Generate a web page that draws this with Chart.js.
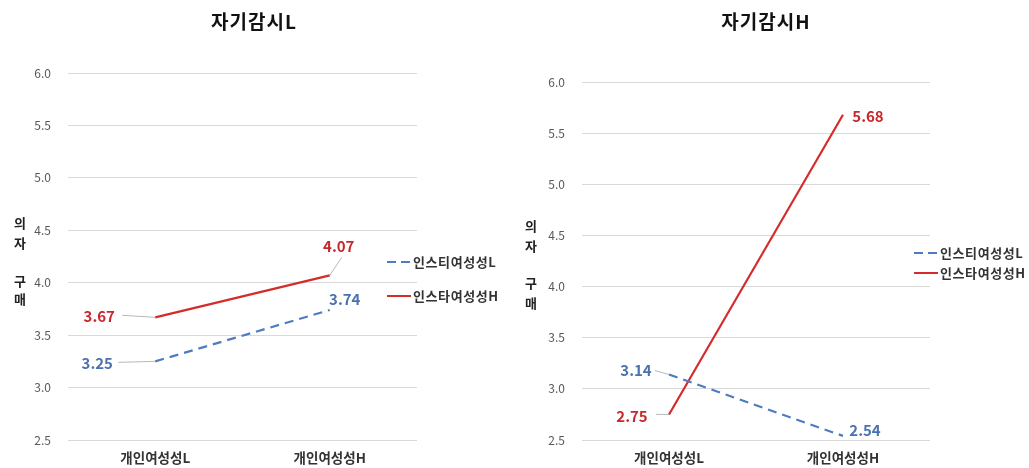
<!DOCTYPE html>
<html>
<head>
<meta charset="utf-8">
<script src="https://cdn.jsdelivr.net/npm/chart.js@4.4.1/dist/chart.umd.min.js"></script>
<style>
  html, body { margin:0; padding:0; background:#fff; }
  body { width:1029px; height:468px; position:relative; overflow:hidden; font-family:"Noto Sans CJK KR","Noto Sans",sans-serif; }
  .panel { position:absolute; top:0; height:468px; }
  .title { position:absolute; top:7px; font-size:19px; font-weight:bold; color:#111; letter-spacing:1px; transform:translateX(-50%); white-space:nowrap; }
  .ylab { position:absolute; font-size:13px; font-weight:bold; color:#222; transform:translate(-50%,-50%); }
  .leg { position:absolute; font-size:13px; font-weight:bold; color:#333; white-space:nowrap; display:flex; align-items:center; letter-spacing:0.6px; }
  .leg svg { margin-right:2px; }
</style>
</head>
<body>
<div class="panel" style="left:0;width:515px"><canvas id="c1" width="515" height="468"></canvas></div>
<div class="panel" style="left:515px;width:514px"><canvas id="c2" width="514" height="468"></canvas></div>

<div class="title" style="left:254px">자기감시L</div>
<div class="title" style="left:766px">자기감시H</div>

<div class="ylab" style="left:20px;top:222px">의</div>
<div class="ylab" style="left:20px;top:242px">자</div>
<div class="ylab" style="left:20px;top:280px">구</div>
<div class="ylab" style="left:20px;top:298px">매</div>
<div class="ylab" style="left:531px;top:225px">의</div>
<div class="ylab" style="left:531px;top:245px">자</div>
<div class="ylab" style="left:531px;top:282px">구</div>
<div class="ylab" style="left:531px;top:302px">매</div>

<div class="leg" style="left:387px;top:252px"><svg width="24" height="4"><line x1="0" y1="2" x2="24" y2="2" stroke="#4F7BC0" stroke-width="2" stroke-dasharray="9 5"/></svg><span id="l1a"></span></div>
<div class="leg" style="left:387px;top:286px"><svg width="24" height="4"><line x1="0" y1="2" x2="24" y2="2" stroke="#D42B2B" stroke-width="2"/></svg><span id="l1b"></span></div>
<div class="leg" style="left:914px;top:243px"><svg width="24" height="4"><line x1="0" y1="2" x2="24" y2="2" stroke="#4F7BC0" stroke-width="2" stroke-dasharray="9 5"/></svg><span id="l2a"></span></div>
<div class="leg" style="left:914px;top:263px"><svg width="24" height="4"><line x1="0" y1="2" x2="24" y2="2" stroke="#D42B2B" stroke-width="2"/></svg><span id="l2b"></span></div>

<script>
// ---- data ----
const categories = ['개인여성성L', '개인여성성H'];
const seriesNames = ['인스티여성성L', '인스타여성성H'];
const leftL  = [3.25, 3.74];
const leftH  = [3.67, 4.07];
const rightL = [3.14, 2.54];
const rightH = [2.75, 5.68];
const yMin = 2.5, yMax = 6.0, yStep = 0.5;

document.getElementById('l1a').textContent = seriesNames[0];
document.getElementById('l1b').textContent = seriesNames[1];
document.getElementById('l2a').textContent = seriesNames[0];
document.getElementById('l2b').textContent = seriesNames[1];

const BLUE = '#4F7BC0', BLUE_T = '#4A72B0';
const RED = '#D42B2B', RED_T = '#C8282D';
const FONT = '"Noto Sans CJK KR","Noto Sans",sans-serif';

const valueLabels = {
  id: 'valueLabels',
  afterDatasetsDraw(chart) {
    const ctx = chart.ctx;
    chart.data.datasets.forEach((ds, i) => {
      const meta = chart.getDatasetMeta(i);
      meta.data.forEach((pt, j) => {
        const o = ds.labelPos[j];
        const x = pt.x, y = pt.y;
        ctx.save();
        if (o.leader) {
          ctx.strokeStyle = '#a6a6a6';
          ctx.lineWidth = 0.8;
          ctx.beginPath();
          ctx.moveTo(x + o.leader[0], y + o.leader[1]);
          ctx.lineTo(x, y);
          ctx.stroke();
        }
        ctx.fillStyle = ds.labelColor;
        ctx.font = 'bold 15px ' + FONT;
        ctx.textAlign = 'center';
        ctx.textBaseline = 'middle';
        ctx.fillText(ds.data[j].toFixed(2), x + o.dx, y + o.dy);
        ctx.restore();
      });
    });
  }
};

function makeChart(id, dataL, dataH, posL, posH, pad, yWidth) {
  return new Chart(document.getElementById(id), {
    type: 'line',
    data: {
      labels: categories,
      datasets: [
        { label: seriesNames[0], data: dataL, borderColor: BLUE, borderWidth: 2.2, borderDash: [9, 6],
          pointRadius: 0, fill: false, tension: 0, labelColor: BLUE_T, labelPos: posL },
        { label: seriesNames[1], data: dataH, borderColor: RED, borderWidth: 2.2,
          pointRadius: 0, fill: false, tension: 0, labelColor: RED_T, labelPos: posH }
      ]
    },
    options: {
      responsive: false,
      animation: false,
      layout: { padding: pad },
      plugins: { legend: { display: false }, title: { display: false }, tooltip: { enabled: false } },
      scales: {
        x: {
          offset: true,
          grid: { display: false, drawTicks: false },
          border: { display: false },
          ticks: { padding: 10, color: '#333', font: { family: FONT, size: 13.5, weight: 'bold' } },
          afterFit: s => { s.height = 28; }
        },
        y: {
          min: yMin, max: yMax,
          grid: { color: '#d9d9d9', drawTicks: false, lineWidth: 1 },
          border: { display: false },
          ticks: { stepSize: yStep, padding: 17, color: '#595959',
                   font: { family: FONT, size: 12 },
                   callback: v => Number(v).toFixed(1) },
          afterFit: s => { s.width = yWidth; }
        }
      }
    },
    plugins: [valueLabels]
  });
}

makeChart('c1', leftL, leftH,
  [ { dx: -58, dy: 2, leader: [-37, 1] }, { dx: 15, dy: -11 } ],
  [ { dx: -56, dy: -1, leader: [-33, -2] }, { dx: 9, dy: -29, leader: [12, -18] } ],
  { top: 73, right: 98, left: 0, bottom: 0 }, 68);

makeChart('c2', rightL, rightH,
  [ { dx: -33, dy: -4, leader: [-14, -4] }, { dx: 22, dy: -6 } ],
  [ { dx: -37, dy: 2, leader: [-13, 0] }, { dx: 25, dy: 2 } ],
  { top: 82, right: 99, left: 0, bottom: 0 }, 67);
</script>
</body>
</html>
